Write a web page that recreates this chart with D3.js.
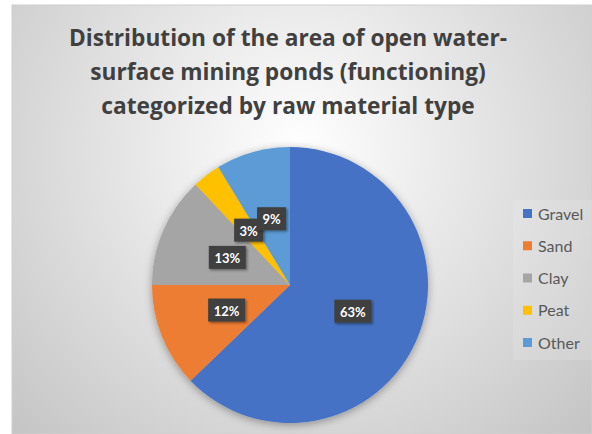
<!DOCTYPE html>
<html><head><meta charset="utf-8">
<script src="https://cdn.jsdelivr.net/npm/d3@7/dist/d3.min.js"></script>
<style>html,body{margin:0;padding:0;background:#fff;}svg{display:block;}</style>
</head><body>
<svg id="c" width="592" height="434"></svg>
<script>
const categories = ["Gravel", "Sand", "Clay", "Peat", "Other"];
const values = [62.8, 12.2, 13.0, 3.3, 8.7];
const colors = ["#4472C4", "#ED7D31", "#A5A5A5", "#FFC000", "#5B9BD5"];
const titleLines = ["Distribution of the area of open water-", "surface mining ponds (functioning)", "categorized by raw material type"];

const svg = d3.select("#c");
const defs = svg.append("defs");
const rg = defs.append("radialGradient").attr("id", "bg")
  .attr("gradientUnits", "userSpaceOnUse").attr("cx", 300).attr("cy", 150).attr("r", 420);
rg.append("stop").attr("offset", "0").attr("stop-color", "#ffffff");
rg.append("stop").attr("offset", "1").attr("stop-color", "#c2c2c2");
const f = defs.append("filter").attr("id", "sh").attr("x", "-20%").attr("y", "-20%").attr("width", "140%").attr("height", "140%");
f.append("feDropShadow").attr("dx", 0).attr("dy", 2).attr("stdDeviation", 4).attr("flood-color", "#000").attr("flood-opacity", 0.35);
const f2 = defs.append("filter").attr("id", "lsh").attr("x", "-30%").attr("y", "-30%").attr("width", "160%").attr("height", "160%");
f2.append("feDropShadow").attr("dx", 1.5).attr("dy", 1.5).attr("stdDeviation", 1.2).attr("flood-color", "#000").attr("flood-opacity", 0.4);

svg.append("rect").attr("x", 12).attr("y", 5).attr("width", 580).attr("height", 429)
  .attr("fill", "url(#bg)").attr("stroke", "#d0d0d0").attr("stroke-width", 1);

const font = "Lato, 'Open Sans', sans-serif";
const title = svg.append("g");
const tys = [46, 80, 114];
titleLines.forEach((t, i) => {
  title.append("text").attr("x", 288).attr("y", tys[i]).attr("text-anchor", "middle")
    .attr("font-family", "'Open Sans', sans-serif").attr("font-weight", 700).attr("font-size", 22.7)
    .attr("fill", "#404040").text(t);
});

const cx = 290, cy = 285, R = 138;
const pie = d3.pie().sort(null).value(d => d)(values);
const arc = d3.arc().innerRadius(0).outerRadius(R);
const total = d3.sum(values);
const g = svg.append("g").attr("transform", `translate(${cx},${cy})`);
g.append("g").attr("filter", "url(#sh)").selectAll("path").data(pie).join("path")
  .attr("d", arc).attr("fill", (d, i) => colors[i]);

const labelArc = d3.arc().innerRadius(0).outerRadius(R * 0.99);
const lab = g.append("g").selectAll("g").data(pie).join("g")
  .attr("transform", d => { const c = labelArc.centroid(d); return `translate(${c[0]},${c[1]})`; });
lab.each(function(d, i) {
  const s = d3.select(this);
  const txt = Math.round(d.data / total * 100) + "%";
  const w = txt.length === 3 ? 37 : 29;
  s.append("rect").attr("x", -w / 2).attr("y", -12).attr("width", w).attr("height", 23)
    .attr("fill", "#404040").attr("filter", "url(#lsh)");
  s.append("text").attr("x", 0).attr("y", 5).attr("text-anchor", "middle")
    .attr("font-family", font).attr("font-weight", 700).attr("font-size", 13)
    .attr("fill", "#ffffff").text(txt);
});

const leg = svg.append("g");
leg.append("rect").attr("x", 513).attr("y", 200).attr("width", 79).attr("height", 160).attr("fill", "#ffffff").attr("opacity", 0.12);
const ly = d3.scalePoint().domain(categories).range([214, 343]);
const li = leg.selectAll("g.li").data(categories).join("g").attr("class", "li")
  .attr("transform", d => `translate(523,${ly(d)})`);
li.append("rect").attr("x", 0).attr("y", -5).attr("width", 9).attr("height", 9).attr("fill", (d, i) => colors[i]);
li.append("text").attr("x", 15).attr("y", 5.5).attr("font-family", font).attr("font-size", 16)
  .attr("fill", "#595959").text(d => d);
</script>
</body></html>
